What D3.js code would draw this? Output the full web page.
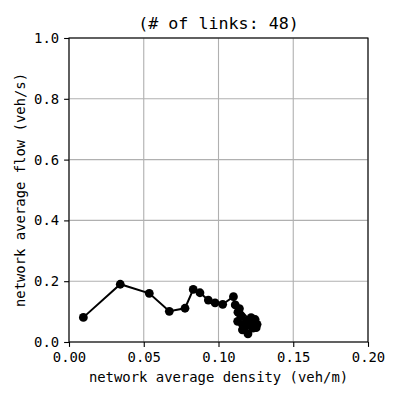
<!DOCTYPE html>
<html lang="en">
  <head>
    <meta charset="UTF-8" />
    <title>network fundamental diagram</title>
    <style>
      body { margin: 0; background: #fff; }
      text {
        font-family: "DejaVu Sans Mono", monospace;
        fill: #000;
      }
      .tick text { font-size: 13.9px; }
      .tick line { stroke: #000; stroke-width: 1.1px; }
      .grid line { stroke: #b0b0b0; stroke-width: 1.1px; }
    </style>
  </head>
  <body>
    <script src="https://cdn.jsdelivr.net/npm/d3@7/dist/d3.min.js"></script>
    <script>

      // density (veh/m) and flow (veh/s), in order of time
      var density = [
        0.0096, 0.0343, 0.0537, 0.0671, 0.0776, 0.0831, 0.0876, 0.0932,
        0.0977, 0.1028, 0.1100, 0.1112, 0.1130, 0.1150, 0.1128, 0.1160,
        0.1190, 0.1218, 0.1245, 0.1258, 0.1230, 0.1197, 0.1180, 0.1160,
        0.1205, 0.1252, 0.1140
      ];
      var flow = [
        0.081, 0.190, 0.160, 0.101, 0.111, 0.173, 0.162, 0.138,
        0.129, 0.124, 0.149, 0.122, 0.098, 0.085, 0.068, 0.058,
        0.070, 0.080, 0.074, 0.058, 0.046, 0.027, 0.050, 0.040,
        0.062, 0.047, 0.110
      ];

      var xTicks = [0, 0.05, 0.10, 0.15, 0.20];
      var yTicks = [0, 0.2, 0.4, 0.6, 0.8, 1.0];

      var title = "(# of links: 48)";
      var xLabel = "network average density (veh/m)";
      var yLabel = "network average flow (veh/s)";

      var dataset = density.map(function(d, i) { return [d, flow[i]]; });

      var w = 400,
          h = 400,
          margin = { top: 38, right: 32, bottom: 58, left: 69 };

      var svg = d3.select("body").append("svg")
        .attr("width", w)
        .attr("height", h);

      var xScale = d3.scaleLinear()
        .domain([0, 0.2])
        .range([margin.left, w - margin.right]);

      var yScale = d3.scaleLinear()
        .domain([0, 1])
        .range([h - margin.bottom, margin.top]);

      // grid
      var grid = svg.append("g").attr("class", "grid");

      grid.selectAll("line.v")
        .data(xTicks)
        .enter()
        .append("line")
        .attr("class", "v")
        .attr("x1", function(d) { return xScale(d) })
        .attr("x2", function(d) { return xScale(d) })
        .attr("y1", yScale(0))
        .attr("y2", yScale(1));

      grid.selectAll("line.h")
        .data(yTicks)
        .enter()
        .append("line")
        .attr("class", "h")
        .attr("x1", xScale(0))
        .attr("x2", xScale(0.2))
        .attr("y1", function(d) { return yScale(d) })
        .attr("y2", function(d) { return yScale(d) });

      // axes
      var xAxis = d3.axisBottom(xScale)
        .tickValues(xTicks)
        .tickFormat(d3.format(".2f"))
        .tickSize(4.9)
        .tickPadding(5);

      var yAxis = d3.axisLeft(yScale)
        .tickValues(yTicks)
        .tickFormat(d3.format(".1f"))
        .tickSize(4.9)
        .tickPadding(5);

      svg.append("g")
        .attr("class", "xaxis")
        .attr("transform", "translate(0," + (h - margin.bottom) + ")")
        .call(xAxis)
        .call(function(g) { g.select(".domain").remove() });

      svg.append("g")
        .attr("class", "yaxis")
        .attr("transform", "translate(" + margin.left + ",0)")
        .call(yAxis)
        .call(function(g) { g.select(".domain").remove() });

      // frame
      svg.append("rect")
        .attr("x", xScale(0))
        .attr("y", yScale(1))
        .attr("width", xScale(0.2) - xScale(0))
        .attr("height", yScale(0) - yScale(1))
        .attr("fill", "none")
        .attr("stroke", "#000")
        .attr("stroke-width", 1.1);

      // line + markers
      var line = d3.line()
        .x(function(d) { return xScale(d[0]) })
        .y(function(d) { return yScale(d[1]) });

      svg.append("path")
        .datum(dataset)
        .attr("d", line)
        .attr("fill", "none")
        .attr("stroke", "#000")
        .attr("stroke-width", 2);

      svg.selectAll("circle")
        .data(dataset)
        .enter()
        .append("circle")
        .attr("cx", function(d) { return xScale(d[0]) })
        .attr("cy", function(d) { return yScale(d[1]) })
        .attr("r", 4.4)
        .attr("fill", "#000");

      // labels
      svg.append("text")
        .attr("x", (xScale(0) + xScale(0.2)) / 2)
        .attr("y", 29)
        .attr("text-anchor", "middle")
        .style("font-size", "16.7px")
        .text(title);

      svg.append("text")
        .attr("x", (xScale(0) + xScale(0.2)) / 2)
        .attr("y", 382)
        .attr("text-anchor", "middle")
        .style("font-size", "13.9px")
        .text(xLabel);

      svg.append("text")
        .attr("transform", "translate(25," + ((yScale(0) + yScale(1)) / 2) + ") rotate(-90)")
        .attr("text-anchor", "middle")
        .style("font-size", "13.9px")
        .text(yLabel);

    </script>
  </body>
</html>
